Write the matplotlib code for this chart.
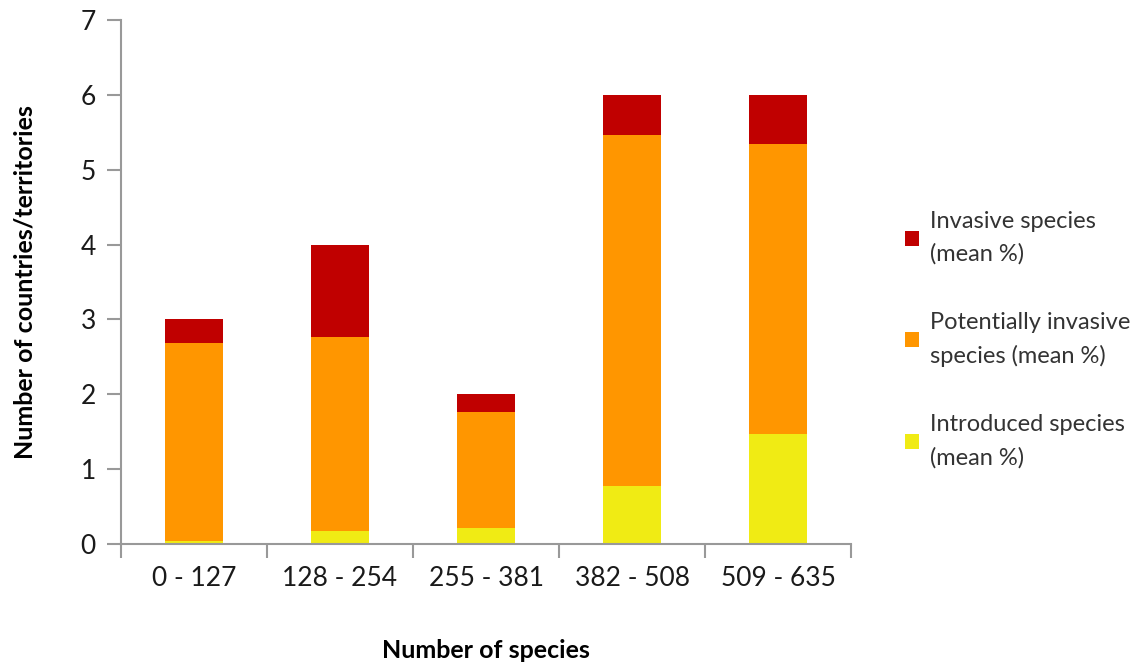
import matplotlib
matplotlib.use("Agg")
import matplotlib.pyplot as plt
import numpy as np

# --- Data ---
categories = ["0 - 127", "128 - 254", "255 - 381", "382 - 508", "509 - 635"]
introduced = [0.04, 0.18, 0.22, 0.77, 1.47]
potentially_invasive = [2.65, 2.59, 1.55, 4.70, 3.88]
invasive = [0.31, 1.23, 0.23, 0.53, 0.65]

plt.rcParams["font.family"] = ["Lato", "DejaVu Sans"]

fig = plt.figure(figsize=(11.41, 6.66), dpi=100)
ax = fig.add_axes([0.106, 0.183, 0.640, 0.787])

x = np.arange(len(categories))
w = 0.4
bottom2 = np.array(introduced)
bottom3 = bottom2 + np.array(potentially_invasive)

b1 = ax.bar(x, introduced, w, color="#F0EB14", label="Introduced species\n(mean %)")
b2 = ax.bar(x, potentially_invasive, w, bottom=bottom2, color="#FF9600",
            label="Potentially invasive\nspecies (mean %)")
b3 = ax.bar(x, invasive, w, bottom=bottom3, color="#C00000",
            label="Invasive species\n(mean %)")

ax.set_xlim(-0.5, len(categories) - 0.5)
ax.set_ylim(0, 7)
ax.set_yticks(range(8))

# category labels between the boundary ticks
ax.set_xticks(np.arange(len(categories) + 1) - 0.5)
ax.set_xticklabels([])
ax.set_xticks(x, minor=True)
ax.set_xticklabels(categories, minor=True)
ax.tick_params(axis="x", which="minor", length=0, pad=16, labelsize=19, labelcolor="#1a1a1a")
ax.tick_params(axis="x", which="major", length=10, color="#999999", width=1.5)
ax.tick_params(axis="y", length=10, color="#999999", width=1.5, labelsize=19,
               labelcolor="#1a1a1a", pad=8)

for s in ["top", "right"]:
    ax.spines[s].set_visible(False)
for s in ["left", "bottom"]:
    ax.spines[s].set_color("#999999")
    ax.spines[s].set_linewidth(1.5)

ax.set_xlabel("Number of species", fontsize=18, fontweight="bold", labelpad=34)
ax.set_ylabel("Number of countries/territories", fontsize=18, fontweight="bold", labelpad=32)

leg = ax.legend(handles=[b3, b2, b1], loc="center left", bbox_to_anchor=(1.074, 0.39),
                frameon=False, fontsize=17, labelspacing=2.0, handlelength=0.6,
                handleheight=0.6, handletextpad=0.45, borderpad=0, borderaxespad=0,
                labelcolor="#333333")
for t in leg.get_texts():
    t.set_linespacing(1.65)

fig.savefig("out.png", dpi=100)
